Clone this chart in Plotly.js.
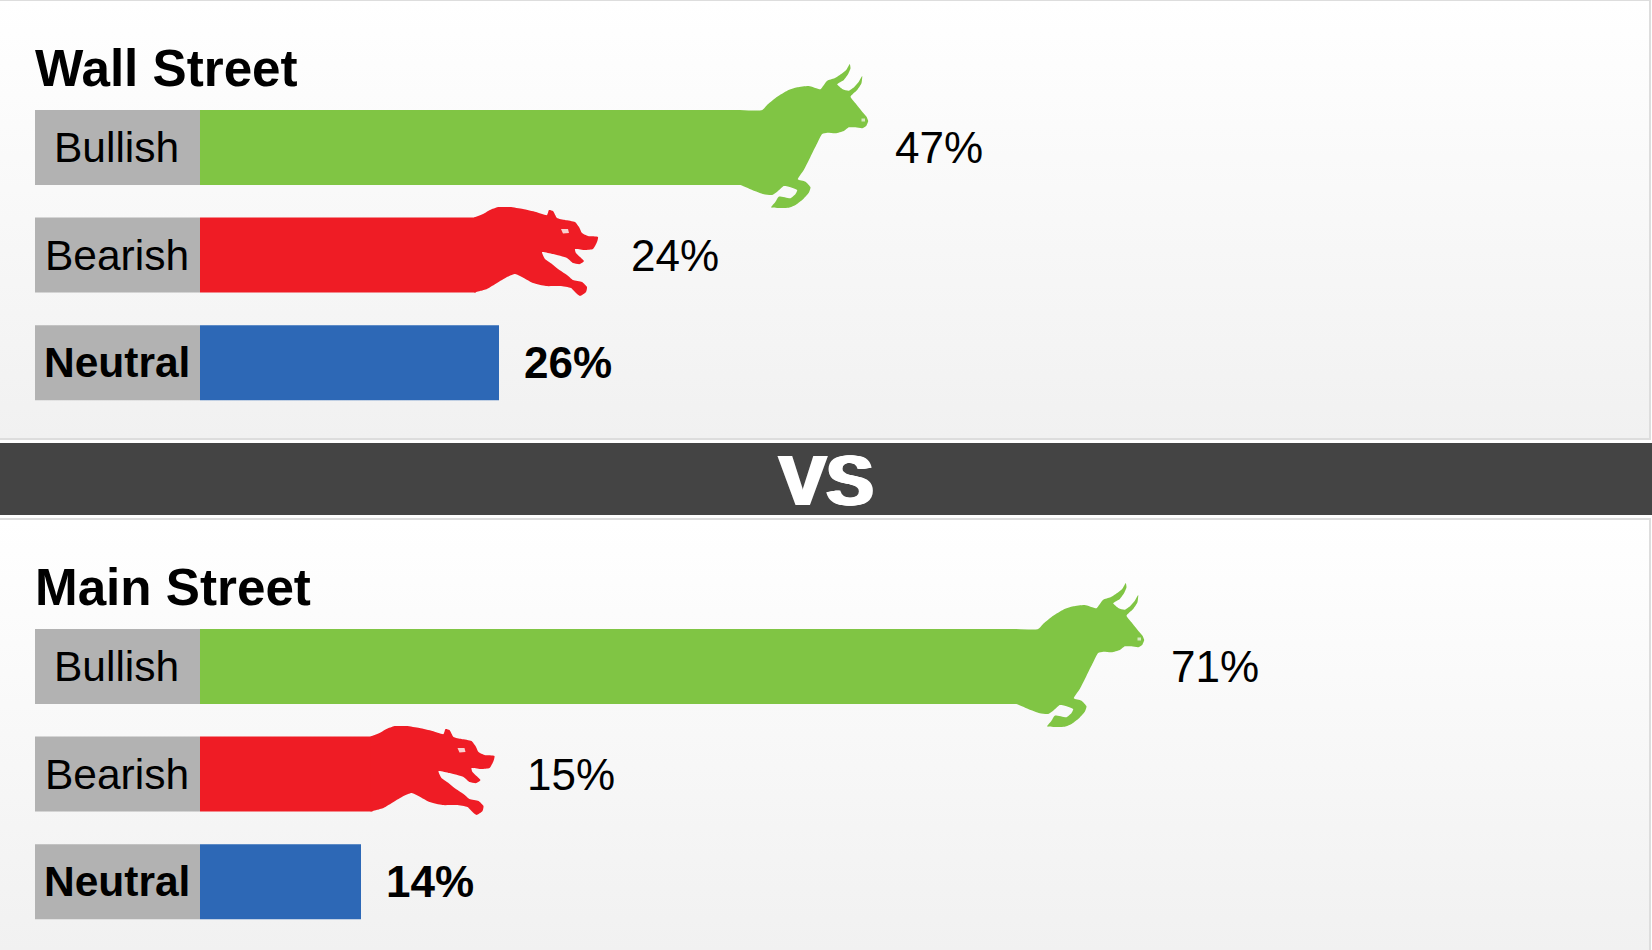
<!DOCTYPE html>
<html>
<head>
<meta charset="utf-8">
<script src="https://cdn.plot.ly/plotly-3.0.1.min.js"></script>
<style>
html,body{margin:0;padding:0;background:#fff;overflow:hidden}
#wrap{position:absolute;left:0;top:0;width:1652px;height:950px;
background:linear-gradient(to bottom,#ddd 0,#ddd 1px,#fff 1px,#f1f1f1 438px,#ddd 438px,#ddd 440px,#fff 440px,#fff 518px,#ddd 518px,#ddd 520px,#fff 520px,#f1f1f1 950px)}
#chart{width:1652px;height:950px}
</style>
</head>
<body>
<div id="wrap"><div id="chart"></div></div>
<script>
const categories = ["Bullish", "Bearish", "Neutral"];
const wallStreetValues = [47, 24, 26];
const mainStreetValues = [71, 15, 14];
const panelTitles = ["Wall Street", "Main Street"];
const separatorLabel = "VS";
const barColors = ["#80c544", "#ef1c25", "#2d68b6"];
const labelBoxColor = "#b2b2b2";

// Animal silhouettes: pixel offsets from the bar's end and centre line
const bullDx = [-1,21.7,27.3,36.7,46.7,56.7,68.3,80,83.3,86.7,94,100.7,105.7,109.3,110,107.7,103.3,96.7,102.3,108.3,114,118.3,121.7,121,116.7,110,115,121.7,126,127.7,125.7,121.7,115,108.3,103.3,95,86.7,81.7,76.7,70,63.3,57.3,65,70,68.3,61.7,55,48.3,30.7,35,38.3,50,55,56.7,48.3,43.3,36.7,31.7,23.3,11.7,0,-1];
const bullDy = [-37.5,-37.5,-43.2,-50.8,-56.8,-60.2,-61.5,-58.2,-62.5,-66.8,-69.2,-73.5,-77.5,-83.5,-79.2,-73.5,-67.5,-63.2,-58.2,-56.8,-60.8,-65.8,-71.5,-64.2,-57.5,-50.8,-44.2,-35.8,-30.8,-26.5,-21.5,-19.2,-20.2,-20.2,-16.5,-14.2,-14.8,-13.5,-4.2,9.2,22.5,31.8,34.2,39.8,45.2,52.5,57.5,60.2,59.8,54.2,49.2,50.8,46.5,42.5,39.2,38.5,44.2,47.5,46.8,42.5,37.5,37.5];
const bullNoseDx = [121,124.5,124.5,121];
const bullNoseDy = [-29,-29,-26,-26];
const bearDx = [-2,7,14,22,34,47,60,71,73,77,81,89,99,103,106,112,122,121,117,109,99,100,104,108,104,97,91,77,66,69,76,82,91,97,106,111,110,104,100,95,84,70,57,44,39,31,21,11,4,-2];
const bearDy = [-37.5,-41,-45,-48,-48,-46,-43,-40,-45,-44,-37,-35,-33,-28,-22,-19,-18,-13,-6,-5,-6,-2,2,6,9,8,3,-1,-3,4,9,14,20,25,27,32,37,41,38,33,31,31,28,21,19,22,28,34,36,37.5];
const bearEyeDx = [85,92,93,87];
const bearEyeDy = [-26,-26,-22,-21.5];

const W = 1652, H = 950;
const xZero = 200, pxPerUnit = 11.5;
const rowPitch = 107.6, barPx = 75;
const labelBoxPx = 165, animalTextGap = 152.6, neutralTextGap = 23;
const panelA = {top:0, bottom:438, first:147.5};
const panelB = {top:520, bottom:950, first:666.5};

function yRange(p){ return [(p.bottom-p.first)/rowPitch, (p.top-p.first)/rowPitch]; }
const rowIdx = categories.map((c,i)=>i);
const traces = [];
const annotations = [];
const bold = c => c === "Neutral";

function addPanel(values, yaxis, yref, title, panel){
  traces.push({type:"bar", orientation:"h", x:rowIdx.map(()=>labelBoxPx/pxPerUnit), base:rowIdx.map(()=>-labelBoxPx/pxPerUnit),
    y:rowIdx, width:barPx/rowPitch, yaxis, marker:{color:labelBoxColor,line:{width:0}}, hoverinfo:"skip", showlegend:false});
  traces.push({type:"bar", orientation:"h", x:values, y:rowIdx, width:barPx/rowPitch, yaxis, name:title,
    text:categories, hovertemplate:"%{text}: %{x}%<extra>"+title+"</extra>", textposition:"none",
    marker:{color:barColors,line:{width:0}}, showlegend:false});
  const addPoly = (value,row,dx,dy,color,spline)=>traces.push({type:"scatter",mode:"lines",fill:"toself",fillcolor:color,
    x:dx.map(d=>value+d/pxPerUnit), y:dy.map(d=>row+d/rowPitch), yaxis,
    line:spline?{width:0,shape:"spline",smoothing:0.5,color:color}:{width:0,color:color}, hoverinfo:"skip", showlegend:false});
  addPoly(values[0],0,bullDx,bullDy,barColors[0],true);
  addPoly(values[1],1,bearDx,bearDy,barColors[1],true);
  addPoly(values[0],0,bullNoseDx,bullNoseDy,"#d5e9c0",false);
  addPoly(values[1],1,bearEyeDx,bearEyeDy,"#f8d0d0",false);
  categories.forEach((c,i)=>{
    annotations.push({x:-labelBoxPx/2/pxPerUnit, y:i, xref:"x", yref, text:bold(c)?"<b>"+c+"</b>":c, showarrow:false,
      xanchor:"center", yanchor:"middle", xshift:-1, yshift:0, font:{family:"Liberation Sans",size:42.5,color:"#000"}});
    annotations.push({x:values[i], y:i, xref:"x", yref, text:bold(c)?"<b>"+values[i]+"%</b>":values[i]+"%", showarrow:false,
      xanchor:"left", yanchor:"middle", xshift:bold(c)?neutralTextGap:animalTextGap, font:{family:"Liberation Sans",size:44,color:"#000"}});
  });
  annotations.push({x:35/W, y:1-(panel.first-79)/H, xref:"paper", yref:"paper", text:"<b>"+title+"</b>", showarrow:false,
    xanchor:"left", yanchor:"middle", xshift:-2, font:{family:"Liberation Sans",size:51.2,color:"#000"}});
}
addPanel(wallStreetValues,"y","y",panelTitles[0],panelA);
addPanel(mainStreetValues,"y2","y2",panelTitles[1],panelB);

annotations.push({x:0.5,y:1-481/H,xref:"paper",yref:"paper",text:"<b>"+separatorLabel+"</b>",showarrow:false,xanchor:"center",yanchor:"middle",
  font:{family:"Liberation Sans",size:71,color:"#fff",shadow:"1px 0 0 #fff,-1px 0 0 #fff,2px 0 0 #fff,-2px 0 0 #fff"}});

const layout = {
  width:W, height:H, margin:{l:0,r:0,t:0,b:0}, autosize:false,
  paper_bgcolor:"rgba(0,0,0,0)", plot_bgcolor:"rgba(0,0,0,0)",
  barmode:"overlay", showlegend:false,
  title:{text:""},
  xaxis:{range:[-xZero/pxPerUnit,(W-xZero)/pxPerUnit],domain:[0,1],visible:false,fixedrange:true},
  yaxis:{domain:[1-panelA.bottom/H,1-panelA.top/H],range:yRange(panelA),visible:false,fixedrange:true},
  yaxis2:{domain:[1-panelB.bottom/H,1-panelB.top/H],range:yRange(panelB),visible:false,fixedrange:true},
  shapes:[
    {type:"rect",xref:"paper",yref:"paper",x0:0,x1:1,y0:1-443/H,y1:1-515/H,fillcolor:"#444444",line:{width:0},layer:"below"},
    {type:"rect",xref:"paper",yref:"paper",x0:1649/W,x1:1651/W,y0:1-440/H,y1:1,fillcolor:"#dddddd",line:{width:0},layer:"below"},
    {type:"rect",xref:"paper",yref:"paper",x0:1649/W,x1:1651/W,y0:0,y1:1-518/H,fillcolor:"#dddddd",line:{width:0},layer:"below"},
    {type:"rect",xref:"paper",yref:"paper",x0:1651/W,x1:1,y0:1-440/H,y1:1,fillcolor:"#ffffff",line:{width:0},layer:"below"},
    {type:"rect",xref:"paper",yref:"paper",x0:1651/W,x1:1,y0:0,y1:1-518/H,fillcolor:"#ffffff",line:{width:0},layer:"below"}
  ],
  annotations
};
Plotly.newPlot("chart",traces,layout,{displayModeBar:false,staticPlot:true});
</script>
</body>
</html>
